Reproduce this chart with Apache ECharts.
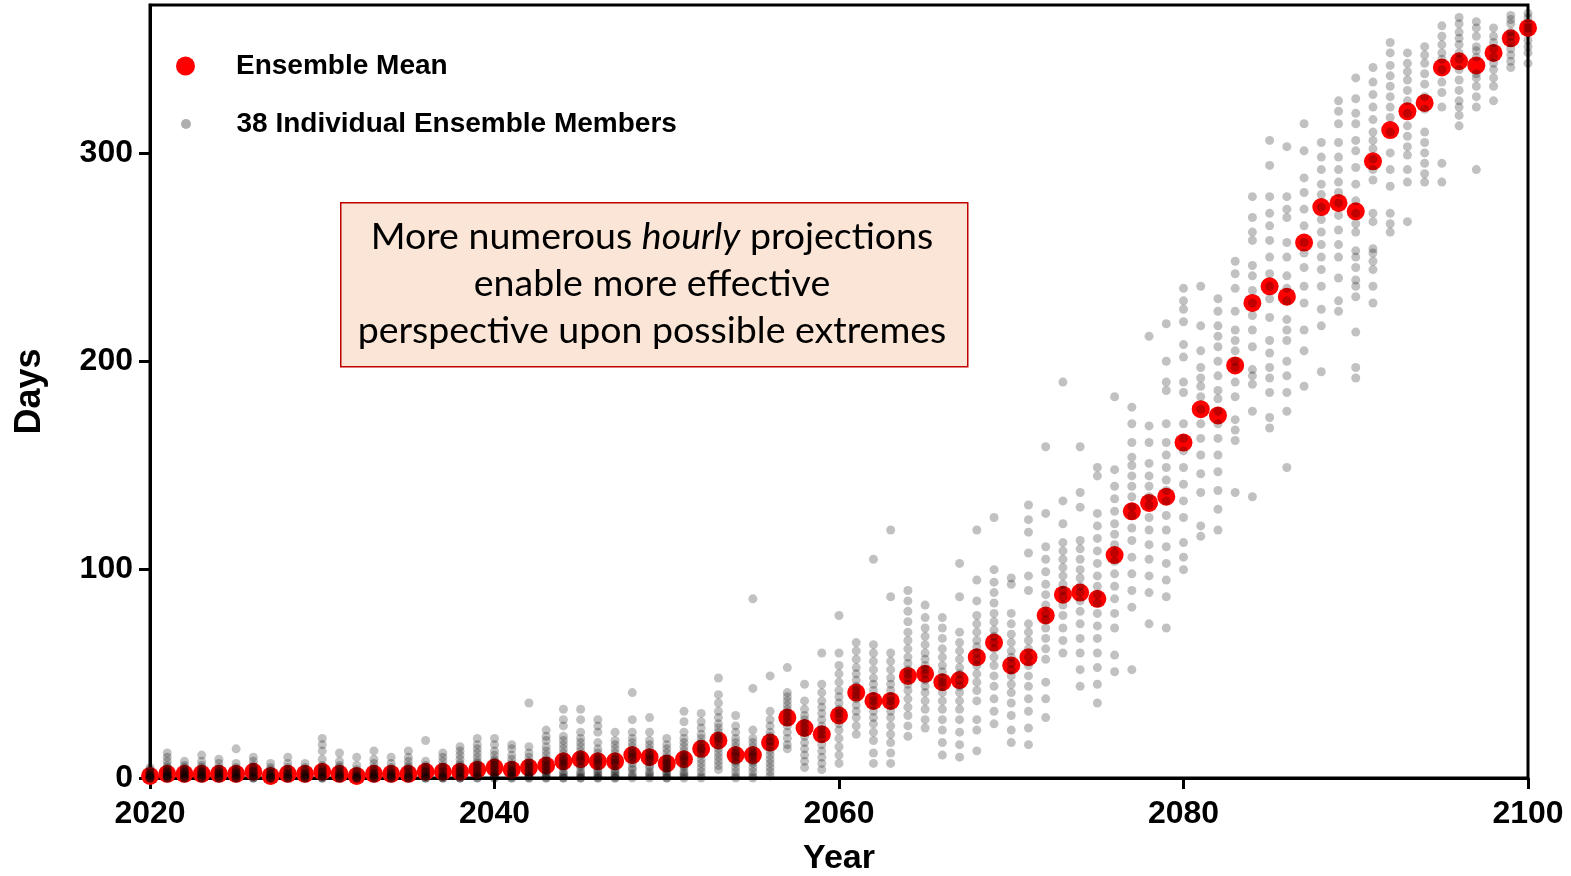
<!DOCTYPE html>
<html>
<head>
<meta charset="utf-8">
<script src="https://cdn.jsdelivr.net/npm/echarts@6/dist/echarts.min.js"></script>
<style>
  html, body { margin: 0; padding: 0; background: #ffffff; }
  #chart { width: 1571px; height: 876px; }
</style>
</head>
<body>
<div id="chart"></div>
<script>
// ---- data ----
const firstYear = 2020;
const lastYear = 2100;
const xTicks = [2020, 2040, 2060, 2080, 2100];
const yTicks = [0, 100, 200, 300];

const meanDays = [
  1, 2, 2, 2, 2, 2, 3, 1, 2, 2,        // 2020-2029
  3, 2, 1, 2, 2, 2, 3, 3, 3, 4,        // 2030-2039
  5, 4, 5, 6, 8, 9, 8, 8, 11, 10,      // 2040-2049
  7, 9, 14, 18, 11, 11, 17, 29, 24, 21, // 2050-2059
  30, 41, 37, 37, 49, 50, 46, 47, 58, 65, // 2060-2069
  54, 58, 78, 88, 89, 86, 107, 128, 132, 135, // 2070-2079
  161, 177, 174, 198, 228, 236, 231, 257, 274, 276, // 2080-2089
  272, 296, 311, 320, 324, 341, 344, 342, 348, 355, // 2090-2099
  360                                   // 2100
];

// visible individual-member values for each year 2020..2100
const memberDays = [
  [0,0,0,0,1,1,1,2,2,3,4,5],
  [0,0,0,1,1,1,2,2,3,3,4,5,6,8,10,12],
  [0,0,0,1,1,2,2,3,3,4,5,6,8],
  [0,0,0,1,1,2,2,3,3,4,5,6,8,11],
  [0,0,0,1,1,2,2,3,3,4,5,7,9],
  [0,0,0,1,1,2,2,3,3,4,5,7,14],
  [0,0,0,1,1,2,3,3,4,5,6,8,10],
  [0,0,0,0,1,1,2,2,3,4,5,7],
  [0,0,0,1,1,2,2,3,4,5,7,10],
  [0,0,0,1,1,2,2,3,4,5,7],
  [0,0,0,1,1,2,3,3,4,5,6,9,13,16,19],
  [0,0,0,1,1,2,2,3,4,5,6,8,12],
  [0,0,0,0,1,1,2,3,4,6,10],
  [0,0,0,1,1,2,2,3,4,5,7,9,13],
  [0,0,0,1,1,2,2,3,4,5,7,10],
  [0,0,0,1,1,2,3,4,5,6,8,10,13],
  [0,0,0,1,1,2,3,3,4,5,6,8,18],
  [0,0,0,1,1,2,3,4,5,6,8,10,12],
  [0,0,0,1,2,3,3,4,5,6,7,9,11,13,15],
  [0,0,1,1,2,3,4,5,6,7,8,10,12,14,16,19],
  [0,0,1,1,2,3,4,5,6,7,8,9,11,13,16,19],
  [0,0,1,1,2,3,3,4,5,6,7,9,11,14,16],
  [0,0,1,1,2,3,4,5,6,7,8,10,12,15,36],
  [0,0,1,2,3,4,5,6,7,8,9,11,13,15,18,20,23],
  [0,0,1,2,3,5,6,7,8,9,10,12,14,16,18,20,25,28,33],
  [0,0,1,2,3,5,6,8,9,10,11,13,15,17,19,22,28,33],
  [0,0,1,2,3,4,6,7,8,9,10,12,14,17,22,25,28],
  [0,0,1,2,3,4,6,7,8,9,10,12,14,16,18,22],
  [0,1,2,4,5,7,9,10,11,12,13,15,17,19,22,28,41],
  [0,1,2,3,5,6,8,9,10,11,12,14,16,18,22,29],
  [0,0,1,2,3,4,5,6,7,8,9,10,12,14,16,19],
  [0,1,2,3,5,6,8,9,10,11,13,15,17,19,22,27,32],
  [0,1,3,5,7,9,11,13,14,15,17,19,21,24,27,31],
  [4,6,8,10,12,14,16,18,19,20,22,24,26,29,32,36,40,48],
  [0,1,3,5,7,8,10,11,12,13,15,17,19,22,25,30],
  [0,1,3,5,7,8,10,11,12,13,15,17,19,23,43,86],
  [1,3,5,7,9,11,13,15,17,18,20,22,25,28,32,49],
  [14,16,19,22,25,27,29,31,33,35,37,39,41,53],
  [5,8,11,14,17,20,22,24,26,28,30,33,37,45],
  [4,7,10,13,16,19,21,23,25,28,31,34,37,41,45,60],
  [7,11,15,19,23,26,29,31,33,36,39,42,46,50,54,60,78],
  [21,25,29,32,35,38,40,42,44,47,50,53,57,61,65],
  [7,12,18,22,26,29,32,35,37,39,42,45,48,52,56,60,64,105],
  [7,12,17,21,25,29,32,35,37,39,42,45,48,52,56,60,87,119],
  [20,25,30,34,38,42,45,48,50,52,55,58,62,66,70,75,80,85,90],
  [24,28,33,37,41,44,47,50,52,54,57,60,64,68,72,77,83],
  [11,17,23,28,33,37,41,44,46,48,51,54,58,62,67,72,77],
  [10,16,22,28,33,37,41,44,47,50,53,57,61,65,70,87,103],
  [13,23,28,37,42,46,50,54,57,60,63,66,70,74,78,85,95,119],
  [26,32,38,44,49,54,58,62,65,68,71,75,79,84,89,94,100,125],
  [17,23,30,36,41,45,49,52,55,58,61,65,69,74,79,93,96],
  [16,24,32,38,44,49,54,58,62,66,70,74,90,97,108,118,124,131],
  [29,38,46,57,62,67,72,76,79,83,88,93,99,105,111,127,159],
  [60,66,72,78,83,87,90,93,97,101,105,109,113,122,133,190],
  [44,52,60,67,74,80,85,89,92,96,100,105,110,114,130,137,159],
  [36,45,53,60,67,73,79,84,88,92,97,103,109,115,121,127,145,149],
  [51,59,72,79,86,92,98,104,108,112,117,122,128,134,140,148,183],
  [52,82,90,98,106,114,120,126,130,135,140,145,150,154,161,170,178],
  [74,89,97,105,112,119,125,131,135,140,145,151,161,169,212],
  [72,87,95,103,111,119,126,133,138,143,149,155,161,170,186,190,200,218],
  [100,106,113,125,133,141,149,157,163,170,185,190,202,208,219,225,229,235],
  [116,121,137,146,155,163,170,177,183,188,192,197,205,217,236],
  [119,129,138,147,155,163,170,176,182,186,193,200,207,212,217,224,230],
  [137,162,167,172,183,190,197,200,205,210,215,224,235,242,248],
  [135,176,189,193,196,207,215,222,228,234,241,246,258,262,269,279],
  [168,173,185,192,197,204,210,221,230,236,242,250,258,265,271,279,294,306],
  [149,176,185,193,200,210,215,220,229,235,241,250,257,269,273,279,303],
  [188,205,215,228,236,245,252,257,265,273,281,288,301,314],
  [195,217,225,236,244,250,256,262,268,274,280,285,292,298,305],
  [224,229,240,250,256,263,270,276,281,286,292,298,305,314,320,325],
  [192,197,214,231,236,239,245,250,253,262,266,271,277,285,293,301,306,314,319,326,336],
  [228,236,244,248,252,254,267,271,287,292,297,302,306,310,316,322,328,334,341],
  [262,266,271,284,292,300,310,317,322,327,332,337,342,348,353],
  [267,286,292,299,303,308,313,319,325,330,335,339,343,348],
  [286,290,295,300,305,310,321,327,333,338,343,347,351],
  [286,295,322,329,334,340,345,348,352,356,361],
  [313,318,322,325,330,335,340,345,348,352,355,358,362,365],
  [292,322,327,332,336,338,346,349,351,356,360,363],
  [325,332,336,340,343,346,350,353,356,360],
  [341,344,347,350,353,356,358,362,364,366],
  [343,348,351,354,358,360,362,365,367]
];

const meanLabel = 'Ensemble Mean';
const membersLabel = '38 Individual Ensemble Members';
const noteLines = ['More numerous {i|hourly} projections', 'enable more effective', 'perspective upon possible extremes'];

// ---- build series data ----
const meanData = meanDays.map((v, i) => [firstYear + i, v]);
const memberData = [];
memberDays.forEach((vals, i) => vals.forEach(v => memberData.push([firstYear + i, v])));

const chart = echarts.init(document.getElementById('chart'), null, { renderer: 'canvas' });
const boldFamily = 'Liberation Sans, Arial, sans-serif';
const axisFont = { fontFamily: boldFamily, fontWeight: 'bold', fontSize: 32, color: '#000' };
const legendText = { fontFamily: boldFamily, fontWeight: 'bold', fontSize: 28, color: '#000' };

const option = {
  backgroundColor: '#ffffff',
  animation: false,
  grid: {
    left: 150, right: 43, top: 5, bottom: 98,
    outerBoundsMode: 'none', containLabel: false,
    show: true, borderColor: '#000', borderWidth: 3, backgroundColor: 'transparent'
  },
  legend: [
    {
      data: [{ name: meanLabel, icon: 'circle', itemStyle: { color: '#ff0000' } }],
      left: 171, top: 47, itemWidth: 19, itemHeight: 19, selectedMode: false,
      textStyle: Object.assign({ padding: [0, 0, 0, 36] }, legendText)
    },
    {
      data: [{ name: membersLabel, icon: 'circle', itemStyle: { color: '#9a9a9a' } }],
      left: 176, top: 105, itemWidth: 19, itemHeight: 10, selectedMode: false,
      textStyle: Object.assign({ padding: [0, 0, 0, 36] }, legendText)
    }
  ],
  xAxis: {
    type: 'value', min: firstYear, max: lastYear, interval: 20,
    name: 'Year', nameLocation: 'middle', nameGap: 64,
    nameTextStyle: Object.assign({}, axisFont, { fontSize: 34 }),
    axisLine: { show: true, lineStyle: { color: '#000', width: 3 } },
    axisTick: { show: true, length: 11, lineStyle: { color: '#000', width: 3 }, customValues: xTicks },
    axisLabel: Object.assign({}, axisFont, { margin: 20, customValues: xTicks, formatter: v => String(v) }),
    splitLine: { show: false }
  },
  yAxis: {
    type: 'value', min: 0, max: 371, interval: 100,
    name: 'Days', nameLocation: 'middle', nameGap: 102, nameRotate: 90,
    nameTextStyle: Object.assign({}, axisFont, { fontSize: 36 }),
    axisLine: { show: true, lineStyle: { color: '#000', width: 3 } },
    axisTick: { show: true, length: 11, lineStyle: { color: '#000', width: 3 }, customValues: yTicks },
    axisLabel: Object.assign({}, axisFont, { margin: 17, customValues: yTicks }),
    splitLine: { show: false }
  },
  series: [
    {
      name: meanLabel, type: 'scatter', data: meanData,
      symbol: 'circle', symbolSize: 18,
      itemStyle: { color: '#ff0000', opacity: 1 },
      z: 2, silent: true, clip: false
    },
    {
      name: membersLabel, type: 'scatter', data: memberData,
      symbol: 'circle', symbolSize: 9,
      itemStyle: { color: 'rgba(0,0,0,0.3)' },
      z: 3, silent: true, clip: false, large: false
    }
  ],
  graphic: [
    {
      type: 'rect', left: 340, top: 202, z: 10,
      shape: { width: 627, height: 164 },
      style: { fill: '#FBE5D6', stroke: '#C00000', lineWidth: 1.5 }
    },
    {
      type: 'text', z: 11,
      x: 652, y: 284,
      style: {
        text: noteLines.join('\n'),
        align: 'center', verticalAlign: 'middle',
        fontFamily: 'Lato, Open Sans, sans-serif', fontSize: 37.5, lineHeight: 47, fill: '#000',
        rich: { i: { fontFamily: 'Lato, Open Sans, sans-serif', fontStyle: 'italic', fontSize: 37.5, lineHeight: 47, fill: '#000' } }
      }
    }
  ]
};
chart.setOption(option);
</script>
</body>
</html>
